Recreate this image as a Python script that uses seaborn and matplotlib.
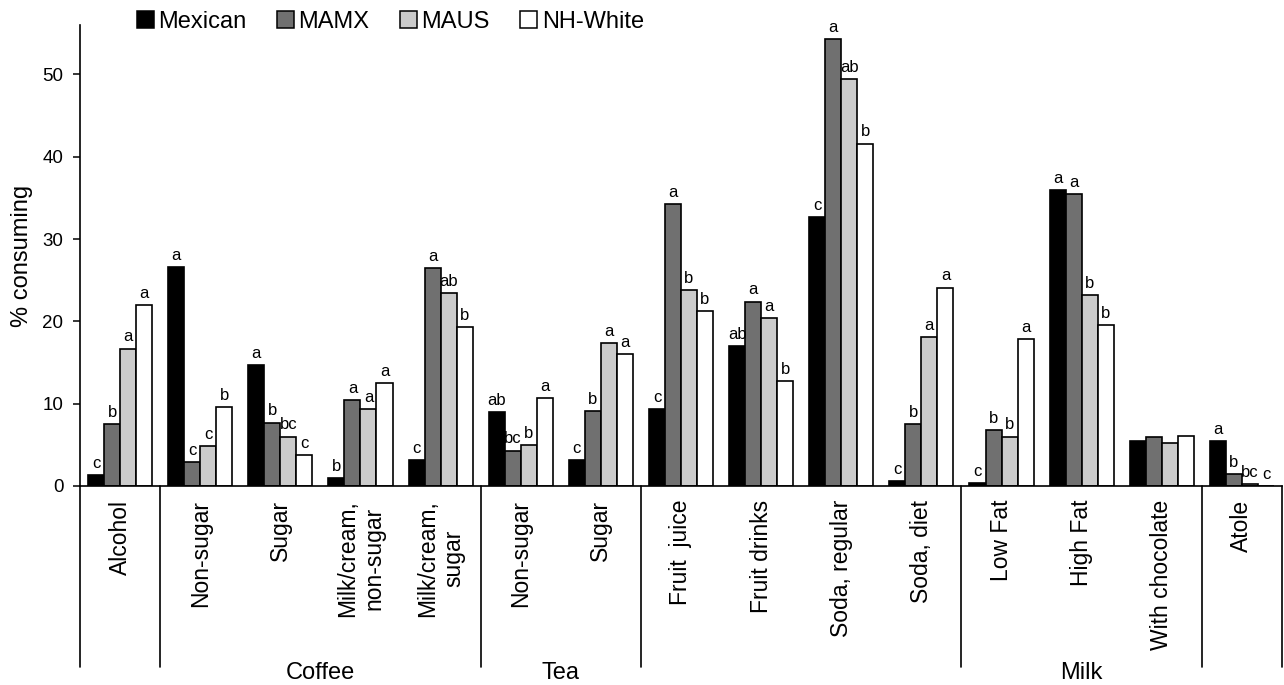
import matplotlib
matplotlib.use("Agg")
import matplotlib.pyplot as plt
import matplotlib.transforms as mtransforms
from matplotlib.patches import Patch
import pandas as pd
import seaborn as sns

# beverage categories (x axis)
keys = ["alcohol", "coffee_nonsugar", "coffee_sugar", "coffee_milk_nonsugar", "coffee_milk_sugar",
        "tea_nonsugar", "tea_sugar", "fruit_juice", "fruit_drinks", "soda_regular", "soda_diet",
        "milk_lowfat", "milk_highfat", "milk_choc", "atole"]
tick_labels = ["Alcohol", "Non-sugar", "Sugar", "Milk/cream,\nnon-sugar", "Milk/cream,\nsugar",
               "Non-sugar", "Sugar", "Fruit  juice", "Fruit drinks", "Soda, regular", "Soda, diet",
               "Low Fat", "High Fat", "With chocolate", "Atole"]
groups = ["Mexican", "MAMX", "MAUS", "NH-White"]
colors = ["#000000", "#707070", "#cbcbcb", "#ffffff"]

# % consuming per group
mexican = [1.3, 26.6, 14.7, 1.0, 3.2, 9.0, 3.2, 9.3, 17.0, 32.7, 0.6, 0.4, 36.0, 5.5, 5.5]
mamx = [7.5, 2.9, 7.7, 10.4, 26.5, 4.3, 9.1, 34.2, 22.4, 54.3, 7.5, 6.8, 35.5, 5.9, 1.5]
maus = [16.7, 4.8, 6.0, 9.4, 23.4, 5.0, 17.4, 23.8, 20.4, 49.4, 18.1, 6.0, 23.2, 5.2, 0.2]
nhwhite = [22.0, 9.6, 3.8, 12.5, 19.3, 10.7, 16.0, 21.2, 12.8, 41.6, 24.1, 17.8, 19.6, 6.1, 0.0]

# significance letters
mex_letters = ["c", "a", "a", "b", "c", "ab", "c", "c", "ab", "c", "c", "c", "a", "", "a"]
mamx_letters = ["b", "c", "b", "a", "a", "bc", "b", "a", "a", "a", "b", "b", "a", "", "b"]
maus_letters = ["a", "c", "bc", "a", "ab", "b", "a", "b", "a", "ab", "a", "b", "b", "", "bc"]
nhw_letters = ["a", "b", "c", "a", "b", "a", "a", "b", "b", "b", "a", "a", "b", "", "c"]

# category group labels under the axis
group_names = ["Coffee", "Tea", "Milk"]
group_spans = [(0.5, 4.5), (4.5, 6.5), (10.5, 13.5)]
dividers = [-0.5, 0.5, 4.5, 6.5, 10.5, 13.5, 14.5]

df = pd.DataFrame({
    "key": keys * 4,
    "group": [g for g in groups for _ in keys],
    "pct": mexican + mamx + maus + nhwhite,
})

sns.set_style("ticks")
plt.rcParams["font.family"] = ["Liberation Sans", "DejaVu Sans"]
plt.rcParams["text.color"] = "black"
plt.rcParams["axes.labelcolor"] = "black"
plt.rcParams["xtick.color"] = "black"
plt.rcParams["ytick.color"] = "black"

fig = plt.figure(figsize=(12.84, 6.85), dpi=100)
ax = fig.add_axes([80 / 1284, 1 - 486 / 685, (1282 - 80) / 1284, (486 - 25) / 685])

sns.barplot(data=df, x="key", y="pct", hue="group", order=keys, hue_order=groups,
            palette=colors, saturation=1, edgecolor="black", linewidth=1.2,
            width=0.8, ax=ax)

# letters on top of bars
for cont, labs in zip(ax.containers, [mex_letters, mamx_letters, maus_letters, nhw_letters]):
    for bar, lab in zip(cont, labs):
        if lab:
            ax.text(bar.get_x() + bar.get_width() / 2, bar.get_height() + 0.5, lab,
                    ha="center", va="bottom", fontsize=12, color="black")

ax.set_xlim(-0.5, 14.5)
ax.set_ylim(0, 56)
ax.set_yticks(range(0, 60, 10))
ax.tick_params(axis="y", labelsize=13.5, length=5, width=1.1, pad=7, colors="black")
ax.set_xticks(range(len(keys)))
ax.set_xticklabels(tick_labels, rotation=90, fontsize=16.5, multialignment="center")
ax.tick_params(axis="x", length=0, pad=10, colors="black")
ax.set_xlabel("")
ax.set_ylabel("% consuming", fontsize=17, labelpad=7, color="black")
sns.despine(ax=ax)
for s in ["left", "bottom"]:
    ax.spines[s].set_linewidth(1.2)
    ax.spines[s].set_color("black")

# divider lines below the axis
trans = mtransforms.blended_transform_factory(ax.transData, ax.transAxes)
for xd in dividers:
    ax.plot([xd, xd], [0, -0.393], transform=trans, clip_on=False, color="black", lw=1.2)
for name, (a, b) in zip(group_names, group_spans):
    ax.text((a + b) / 2, -0.405, name, transform=trans, ha="center", va="center",
            fontsize=17, color="black")

ax.get_legend().remove()
handles = [Patch(facecolor=c, edgecolor="black", linewidth=1.1) for c in colors]
fig.legend(handles, groups, loc="upper left", bbox_to_anchor=(137 / 1284, 1 - 11 / 685),
           ncol=4, frameon=False, fontsize=17, handlelength=0.7, handleheight=0.7,
           handletextpad=0.2, columnspacing=1.3, borderpad=0, borderaxespad=0,
           labelcolor="black")

fig.savefig("out.png", dpi=100)
